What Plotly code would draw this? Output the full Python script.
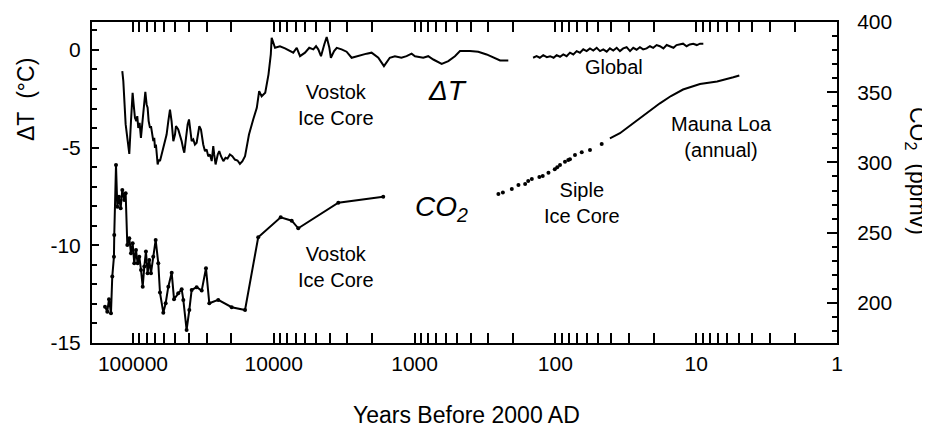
import plotly.graph_objects as go

# ---------------- data ----------------
# Vostok + Holocene temperature (years before 2000 AD, deg C)
vostok_t_years = [119100, 117100, 112700, 106200, 103300, 100600, 98900, 96800, 94700, 93200,
                  91700, 89700, 87800, 85900, 84500, 81700, 80000, 78700, 77400, 75700,
                  74500, 72900, 71700, 70600, 69800, 68700, 67500, 66800, 65400, 64300,
                  62600, 60900, 59300, 57700, 56100, 54600, 53200, 52300, 51700, 50300,
                  49500, 47700, 46400, 45100, 43900, 43200, 42000, 40900, 40000, 39100,
                  38300, 37300, 36300, 35300, 34400, 33800, 32900, 32500, 31700, 30800,
                  30000, 29200, 28400, 27600, 26900, 26500, 25900, 25000, 24400, 23700,
                  22800, 22000, 21300, 20500, 19700, 18900, 18100, 17400, 16700, 16000,
                  15000, 14000, 13200, 12700, 12200, 11500, 10900, 10500, 10350,
                  9800, 9040, 8320, 7670, 7270, 6870, 6510, 6000, 5600, 5240,
                  5010, 4830, 4620, 4380, 4210, 4030, 3930, 3730, 3570, 3300,
                  3040, 2800, 2440, 2190, 2020, 1810, 1650, 1500, 1380, 1240,
                  1140, 1050, 993, 868, 800, 736, 642, 576, 517, 476,
                  404, 353, 308, 276, 247, 216]
vostok_t = [-1.08, -1.60, -3.81, -5.32, -3.64, -2.19, -2.79, -3.47, -3.64, -3.39,
            -3.99, -3.73, -4.50, -3.81, -3.30, -2.14, -2.79, -2.96, -3.64, -3.99,
            -3.90, -4.33, -4.67, -4.50, -5.01, -4.84, -5.35, -5.86, -5.61, -5.69,
            -5.35, -5.01, -4.75, -4.33, -3.64, -3.05, -3.64, -4.16, -4.67, -4.33,
            -3.90, -4.07, -4.33, -4.67, -5.09, -5.26, -4.50, -3.81, -3.56, -4.16,
            -4.67, -4.58, -4.84, -4.75, -4.33, -3.90, -4.07, -4.33, -4.84, -5.18,
            -5.09, -5.44, -5.35, -5.69, -4.92, -5.35, -5.86, -5.35, -5.18, -5.44,
            -5.69, -5.52, -5.56, -5.35, -5.44, -5.61, -5.66, -5.83, -5.69, -5.44,
            -4.33, -3.56, -2.96, -2.11, -2.37, -2.19, -1.25, -0.23, 0.62,
            0.11, 0.19, 0.08, -0.03, -0.14, 0.11, -0.32, -0.14, 0.11, 0.03,
            0.19, 0.03, -0.32, 0.28, 0.66, 0.11, -0.40, -0.06, 0.11, 0.03,
            -0.09, -0.40, -0.27, -0.19, -0.14, -0.40, -0.83, -0.40, -0.32, -0.40,
            -0.32, -0.19, -0.32, -0.40, -0.32, -0.49, -0.71, -0.57, -0.32, -0.06,
            -0.06, -0.09, -0.23, -0.40, -0.54, -0.54]

# Global instrumental temperature
global_years = [144, 136, 129, 122, 115, 109, 103, 98, 92.7, 87.9,
                83.2, 78.8, 74.6, 70.6, 66.9, 63.4, 60.0, 56.8, 53.8, 50.9,
                48.2, 45.7, 43.2, 41.0, 38.8, 36.7, 34.8, 33.0, 31.2, 29.5,
                28.0, 26.5, 25.1, 23.8, 22.5, 21.3, 20.2, 19.1, 18.1, 17.1,
                16.2, 15.4, 14.5, 13.8, 13.0, 12.4, 11.7, 11.1, 10.5, 9.9,
                9.4, 8.9]
global_t = [-0.40, -0.32, -0.40, -0.27, -0.37, -0.32, -0.40, -0.27, -0.35, -0.23,
            -0.32, -0.14, -0.23, -0.06, -0.14, 0.03, -0.06, 0.08, -0.03, 0.11,
            -0.06, 0.03, -0.09, 0.08, -0.03, 0.11, -0.06, 0.08, 0.14, -0.06,
            0.11, 0.01, 0.14, 0.03, 0.08, 0.19, 0.11, 0.25, 0.19, 0.08,
            0.25, 0.19, 0.11, 0.25, 0.28, 0.32, 0.19, 0.28, 0.32, 0.25,
            0.32, 0.32]

# Vostok CO2 (ppmv)
co2_years = [158000, 152200, 148000, 143300, 140300, 136500, 135800, 132000, 129200, 125700,
             122300, 119100, 115300, 112700, 109700, 106200, 103300, 100500, 97900, 95200,
             92700, 90200, 87700, 85300, 83100, 80900, 78700, 76600, 74500, 71800,
             69000, 66100, 64300, 60900, 58600, 56100, 53100, 51100, 47700, 45100,
             43900, 41600, 39800, 38300, 35300, 32500, 30300, 28700, 24800, 19900,
             16000, 12900, 8930, 7460, 6700, 3480, 1670]
co2_vals = [197.3, 193.7, 202.6, 192.6, 218.7, 232.9, 248.3, 298.2, 268.5, 275.6,
            267.4, 280.4, 273.3, 278.0, 241.2, 246.0, 235.3, 242.4, 228.2, 237.7,
            228.2, 232.9, 223.4, 211.5, 225.8, 236.5, 221.1, 230.5, 221.1, 232.9,
            244.8, 228.2, 207.3, 193.0, 199.7, 211.5, 221.5, 202.6, 206.8, 209.7,
            202.1, 180.7, 194.9, 209.2, 211.1, 208.7, 224.6, 199.7, 202.1, 196.9,
            194.9, 246.7, 260.9, 258.5, 253.1, 271.3, 275.6]

# Siple ice core CO2
siple_years = [254, 236, 204, 183, 164, 156, 147, 130, 123, 112,
               101, 97, 92.7, 85.5, 81, 78.8, 72.6, 65, 56.8, 46.9]
siple_co2 = [277.5, 278.6, 281.1, 283.9, 284.7, 286.8, 288.2, 289.6, 290.4, 292.7,
             295.1, 296.5, 298.2, 300.5, 301.7, 302.2, 305.3, 307.2, 308.9, 313.1]

# Mauna Loa annual CO2
ml_years = [41, 34.8, 28, 22.5, 18.1, 15.1, 12.4, 9.4, 7.1, 5.45, 4.94]
ml_co2 = [317.1, 320.8, 327.9, 335.0, 342.1, 347.3, 351.9, 355.9, 357.6, 360.6, 361.9]

# tick labels
x_tick_vals = [100000, 10000, 1000, 100, 10, 1]
x_tick_text = ["100000", "10000", "1000", "100", "10", "1"]
x_minor_vals = [m * 10 ** d for d in range(0, 5) for m in range(2, 10)]
t_tick_vals = [0, -5, -10, -15]
t_tick_text = ["0", "-5", "-10", "-15"]
c_tick_vals = [200, 250, 300, 350, 400]
c_tick_text = ["200", "250", "300", "350", "400"]

FONT = "Liberation Sans, Arial, Helvetica, sans-serif"
BLACK = "black"

fig = go.Figure()
fig.add_trace(go.Scatter(x=vostok_t_years, y=vostok_t, mode="lines",
                         line=dict(color=BLACK, width=2), yaxis="y"))
fig.add_trace(go.Scatter(x=global_years, y=global_t, mode="lines",
                         line=dict(color=BLACK, width=2), yaxis="y"))
fig.add_trace(go.Scatter(x=co2_years, y=co2_vals, mode="lines+markers",
                         line=dict(color=BLACK, width=2),
                         marker=dict(color=BLACK, size=4), yaxis="y2"))
fig.add_trace(go.Scatter(x=siple_years, y=siple_co2, mode="markers",
                         marker=dict(color=BLACK, size=4), yaxis="y2"))
fig.add_trace(go.Scatter(x=ml_years, y=ml_co2, mode="lines",
                         line=dict(color=BLACK, width=2), yaxis="y2"))

# page body has an 8px margin: the figure is shrunk/shifted so the plot lands where the reference has it
OFF = 8
W, H = 930 - OFF, 427 - OFF
PL, PR, PT, PB = 92, 837, 22, 343   # plot box in reference (page) pixels


def px(x):
    return (x - PL) / (PR - PL)


def py(y):
    return (PB - y) / (PB - PT)


annots = [
    dict(text="Vostok<br>Ice Core", x=px(336), y=py(105), size=20),
    dict(text="<i>ΔT</i>", x=px(447), y=py(90), size=28),
    dict(text="Global", x=px(614), y=py(67), size=20),
    dict(text="Mauna Loa<br>(annual)", x=px(721), y=py(137), size=20),
    dict(text="Siple<br>Ice Core", x=px(582), y=py(203), size=20),
    dict(text="<i>CO<sub>2</sub></i>", x=px(441), y=py(209), size=28),
    dict(text="Vostok<br>Ice Core", x=px(336), y=py(267), size=20),
]
for a in annots:
    fig.add_annotation(text=a["text"], x=a["x"], y=a["y"], xref="paper", yref="paper",
                       showarrow=False, xanchor="center", yanchor="middle",
                       font=dict(family=FONT, size=a["size"], color=BLACK))

# axis titles as annotations
fig.add_annotation(text="Years Before 2000 AD", x=px(466), y=py(415), xref="paper", yref="paper",
                   showarrow=False, xanchor="center", yanchor="middle",
                   font=dict(family=FONT, size=23, color=BLACK))
fig.add_annotation(text="ΔT\u00a0\u00a0(°C)", x=px(26), y=py(100), xref="paper", yref="paper",
                   showarrow=False, xanchor="center", yanchor="middle", textangle=-90,
                   font=dict(family=FONT, size=23, color=BLACK))
fig.add_annotation(text="CO<sub>2</sub>\u00a0\u00a0(ppmv)", x=px(917), y=py(171), xref="paper", yref="paper",
                   showarrow=False, xanchor="center", yanchor="middle", textangle=90,
                   font=dict(family=FONT, size=23, color=BLACK))

fig.update_layout(
    width=W, height=H,
    margin=dict(l=PL - OFF, r=930 - PR, t=PT - OFF, b=427 - PB, autoexpand=False),
    plot_bgcolor="white", paper_bgcolor="white",
    showlegend=False,
    font=dict(family=FONT, color=BLACK, size=21),
    xaxis=dict(type="log", range=[5.291, 0], tickmode="array",
               tickvals=x_tick_vals, ticktext=x_tick_text, automargin=False,
               ticks="inside", ticklen=10, tickwidth=1.5, tickcolor=BLACK,
               showline=True, linecolor=BLACK, linewidth=2, mirror="allticks",
               showgrid=False, zeroline=False, ticklabelstandoff=1,
               minor=dict(tickmode="array", tickvals=x_minor_vals, ticks="inside",
                          ticklen=5, tickwidth=1.5, tickcolor=BLACK, showgrid=False),
               tickfont=dict(family=FONT, size=21, color=BLACK)),
    yaxis=dict(range=[-15, 1.43], tickmode="array", tickvals=t_tick_vals, ticktext=t_tick_text,
               automargin=False,
               ticks="inside", ticklen=7, tickwidth=1.5, tickcolor=BLACK,
               showline=True, linecolor=BLACK, linewidth=2, mirror=False,
               showgrid=False, zeroline=False, ticklabelstandoff=5,
               minor=dict(dtick=1, tick0=0, ticks="inside", ticklen=5, tickwidth=1.5,
                          tickcolor=BLACK, showgrid=False),
               tickfont=dict(family=FONT, size=21, color=BLACK)),
    yaxis2=dict(range=[171.4, 400], overlaying="y", side="right", tickmode="array",
                tickvals=c_tick_vals, ticktext=c_tick_text, automargin=False,
                ticks="inside", ticklen=10, tickwidth=1.5, tickcolor=BLACK,
                showline=True, linecolor=BLACK, linewidth=2,
                showgrid=False, zeroline=False, ticklabelstandoff=14,
                minor=dict(dtick=10, tick0=0, ticks="inside", ticklen=5, tickwidth=1.5,
                           tickcolor=BLACK, showgrid=False),
                tickfont=dict(family=FONT, size=21, color=BLACK)),
)

fig.write_html("out.html")
